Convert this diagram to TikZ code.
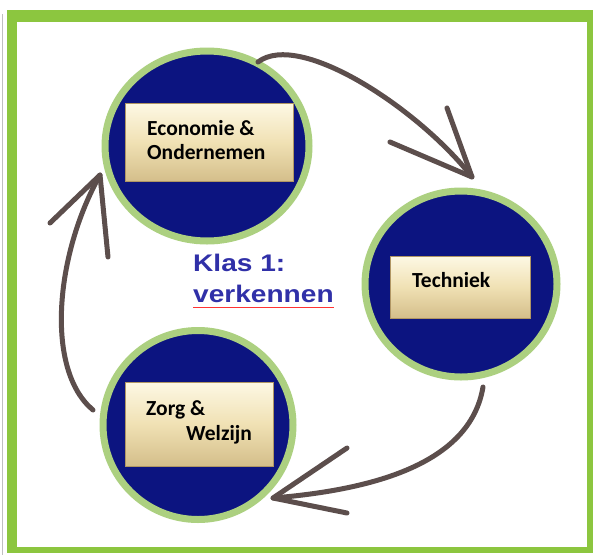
\documentclass[tikz,border=0pt]{standalone}
\usepackage{fontspec}
\setmainfont{Carlito}
\newfontfamily\arialfont{Liberation Sans}
\usetikzlibrary{shapes.geometric}
\definecolor{navy}{RGB}{12,20,128}
\definecolor{rim}{RGB}{172,208,128}
\definecolor{framegreen}{RGB}{140,198,63}
\definecolor{arrowc}{RGB}{92,78,76}
\definecolor{boxtop}{RGB}{253,248,228}
\definecolor{boxmid}{RGB}{240,225,180}
\definecolor{boxbot}{RGB}{212,190,138}
\definecolor{boxedge}{RGB}{176,150,100}
\definecolor{klas}{RGB}{48,48,168}
\begin{document}
\begin{tikzpicture}[x=1pt,y=-1pt,
  disc/.style={ellipse, fill=navy, draw=rim, line width=7pt, inner sep=0pt},
  beigebox/.style={rectangle, top color=boxtop, bottom color=boxbot, middle color=boxmid, draw=boxedge, line width=0.6pt, inner sep=0pt},
  lbl/.style={font=\bfseries\fontsize{21.5}{24}\selectfont, text=black, inner sep=0pt, anchor=base west},
  klaslbl/.style={font=\arialfont\bfseries\fontsize{24}{28}\selectfont, text=klas, inner sep=0pt, anchor=base west},
  cyc/.style={draw=arrowc, line width=5pt, line cap=round, line join=round}]
\useasboundingbox (0,0) rectangle (594,555);
% frame
\fill[white] (0,0) rectangle (594,555);
\fill[framegreen] (7,10) rectangle (593,553);
\fill[white] (17,22) rectangle (587,547);
\draw[black!25, line width=0.8pt] (2.5,14) -- (2.5,555);
% circles
\node[disc, minimum width=204pt, minimum height=190pt] (ecoC) at (207,146) {};
\node[disc, minimum width=192pt, minimum height=186pt] (tecC) at (461,284) {};
\node[disc, minimum width=190pt, minimum height=189pt] (zorC) at (198,425) {};
% boxes
\node[beigebox, minimum width=168pt, minimum height=78pt] (ecoB) at (209,142.5) {};
\node[beigebox, minimum width=140pt, minimum height=62pt] (tecB) at (460,287) {};
\node[beigebox, minimum width=148pt, minimum height=84pt] (zorB) at (199,424) {};
% labels
\node[lbl] (eco1) at (147,135) {Economie \&};
\node[lbl] (eco2) at (147,159) {Ondernemen};
\node[lbl] (tec) at (412,287) {Techniek};
\node[lbl] (zor1) at (146,415) {Zorg \&};
\node[lbl] (zor2) at (186,440) {Welzijn};
\node[klaslbl] (klas1) at (193,271) {\scalebox{1.17}[1]{Klas 1:}};
\node[klaslbl] (klas2) at (193,302) {\scalebox{1.17}[1]{verkennen}};
\draw[red!80, line width=0.9pt] ([yshift=-5pt]klas2.base west) -- ([yshift=-5pt]klas2.base east);
% arrows
\coordinate (a1s) at (258,62);
\coordinate (a1e) at (472,177);
\coordinate (a1p) at (447,108);
\coordinate (a1q) at (390,142);
\draw[cyc] (a1s) .. controls (300,30) and (420,110) .. (a1e);
\draw[cyc] (a1p) -- (a1e) -- (a1q);
\coordinate (a2s) at (483,387);
\coordinate (a2e) at (273,498);
\coordinate (a2p) at (347,448);
\coordinate (a2q) at (347,513);
\draw[cyc] (a2s) .. controls (470,465) and (370,490) .. (a2e);
\draw[cyc] (a2p) -- (a2e) -- (a2q);
\coordinate (a3s) at (93,410);
\coordinate (a3e) at (100,175);
\coordinate (a3p) at (50,223);
\coordinate (a3q) at (108,257);
\draw[cyc] (a3s) .. controls (45,370) and (55,255) .. (a3e);
\draw[cyc] (a3p) -- (a3e) -- (a3q);
\end{tikzpicture}
\end{document}
